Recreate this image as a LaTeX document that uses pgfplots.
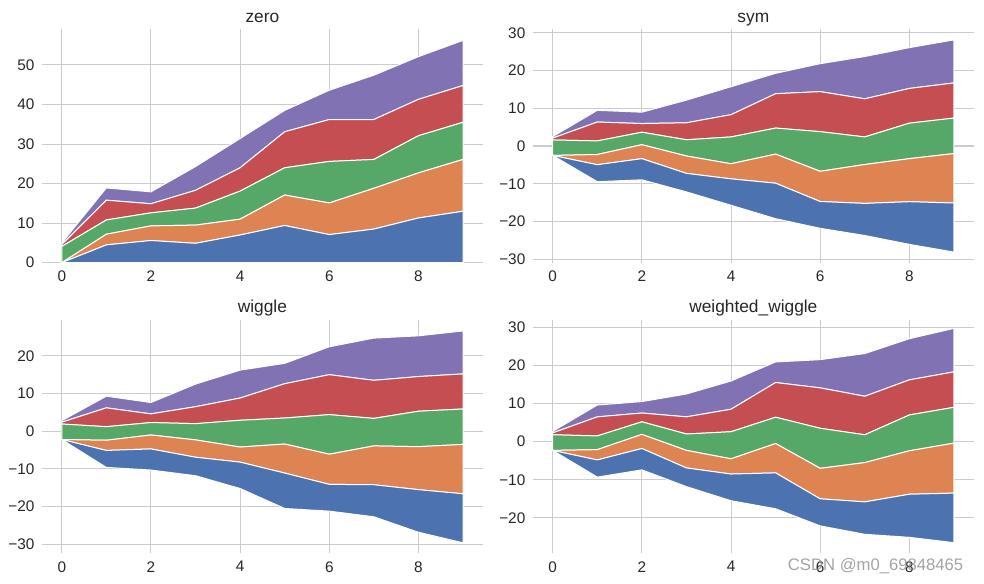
\documentclass[border=0pt]{standalone}
\usepackage{pgfplots}
\pgfplotsset{compat=1.18}
\usepackage{pgfplotstable}
\usepackage{fontspec}
\setmainfont{Liberation Sans}
\definecolor{sblue}{HTML}{4C72B0}
\definecolor{sorange}{HTML}{DD8452}
\definecolor{sgreen}{HTML}{55A868}
\definecolor{sred}{HTML}{C44E52}
\definecolor{spurple}{HTML}{8172B3}
\definecolor{gridc}{HTML}{CCCCCC}
\definecolor{txt}{HTML}{262626}

% layer thicknesses and the baseline of each panel
\pgfplotstableread{
x b    o    g    r    p    zero sym    wig   wwig
0 0.0  0.0  4.1  0.5  0.4  0    -2.5   -2.2  -2.3
1 4.5  2.7  3.6  5.0  3.1  0    -9.45  -9.6  -9.3
2 5.6  3.7  3.3  2.3  3.0  0    -8.95  -10.3 -7.4
3 4.9  4.6  4.3  4.5  6.0  0    -12.15 -11.8 -11.8
4 7.0  4.0  7.1  5.9  7.4  0    -15.7  -15.2 -15.5
5 9.4  7.7  6.9  9.1  5.4  0    -19.25 -20.5 -17.6
6 7.1  8.0  10.5 10.6 7.4  0    -21.8  -21.2 -22.1
7 8.5  10.3 7.3  10.1 11.2 0    -23.7  -22.7 -24.3
8 11.3 11.4 9.4  9.2  10.8 0    -26.05 -26.8 -25.1
9 13.0 13.1 9.4  9.3  11.4 0    -28.1  -29.6 -26.5
}\data

\pgfplotsset{
  panel/.style={
    scale only axis, width=331pt, height=175pt,
    anchor=south west,
    xmin=-0.45, xmax=9.45,
    xtick={0,2,4,6,8},
    grid=major,
    major grid style={draw=gridc, line width=0.8pt},
    axis line style={draw=none},
    major tick length=0pt,
    tick label style={font=\fontsize{11.5}{13}\selectfont, text=txt},
    xticklabel style={yshift=-2.5pt},
    yticklabel style={xshift=-2pt},
    /pgf/number format/assume math mode=true,
    every axis title/.style={font=\fontsize{13}{15}\selectfont, text=txt, at={(0.5,1)}, anchor=base, yshift=5.3pt},
    stack plots=y,
    every axis plot/.append style={draw=white, line width=0.75pt},
  }
}

\newcommand{\layers}[1]{%
  \addplot[draw=none] table[x=x,y=#1]{\data};
  \addplot[fill=sblue] table[x=x,y=b]{\data} \closedcycle;
  \addplot[fill=sorange] table[x=x,y=o]{\data} \closedcycle;
  \addplot[fill=sgreen] table[x=x,y=g]{\data} \closedcycle;
  \addplot[fill=sred] table[x=x,y=r]{\data} \closedcycle;
  \addplot[fill=spurple] table[x=x,y=p]{\data} \closedcycle;
}

\begin{document}
\begin{tikzpicture}
\path[use as bounding box] (0,0) rectangle (738pt,-437.25pt);

\begin{axis}[panel, at={(31.3pt,-197pt)}, title={zero},
  ymin=0, ymax=59, ytick={0,10,20,30,40,50}]
\layers{zero}
\end{axis}

\begin{axis}[panel, at={(399.5pt,-197pt)}, title={sym},
  ymin=-30.9, ymax=30.9, ytick={-30,-20,-10,0,10,20,30},
  yticklabels={−30,−20,−10,0,10,20,30}]
\layers{sym}
\end{axis}

\begin{axis}[panel, at={(31.3pt,-415pt)}, title={wiggle},
  ymin=-32.4, ymax=29.5, ytick={-30,-20,-10,0,10,20},
  yticklabels={−30,−20,−10,0,10,20}]
\layers{wig}
\end{axis}

\begin{axis}[panel, at={(399.5pt,-415pt)}, title={weighted\_wiggle},
  ymin=-29.3, ymax=31.9, ytick={-20,-10,0,10,20,30},
  yticklabels={−20,−10,0,10,20,30}]
\layers{wwig}
\end{axis}

\node[anchor=base east, text=black!45, opacity=0.8, font=\fontsize{12.5}{14}\selectfont] at (726pt,-428pt) {CSDN @m0\_69848465};
\end{tikzpicture}
\end{document}
